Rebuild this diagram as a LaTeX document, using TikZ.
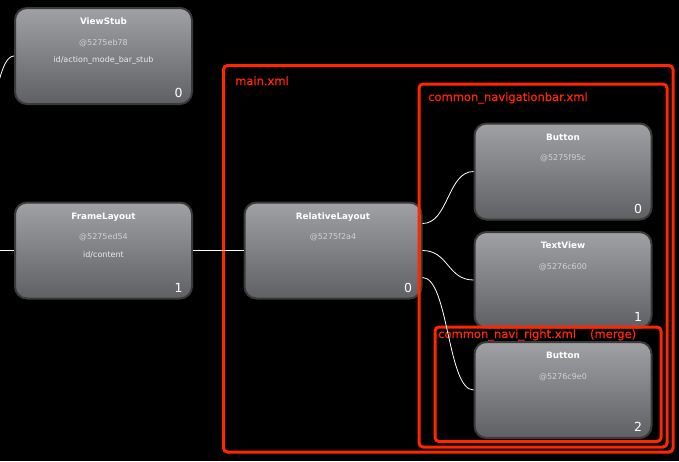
\documentclass[tikz,border=0pt]{standalone}
\usepackage{fontspec}
\setmainfont{DejaVu Sans}
\newfontface\xmlface{DejaVu Sans}[FakeBold=0.7]
\definecolor{boxtop}{RGB}{160,161,164}
\definecolor{boxbottom}{RGB}{94,96,100}
\definecolor{boxedge}{RGB}{58,58,58}
\definecolor{xmlred}{RGB}{255,38,0}
\colorlet{addrgray}{white!82!black}
\usetikzlibrary{positioning}

\begin{document}
\begin{tikzpicture}[x=1pt, y=-1pt,
    viewbox/.style={top color=boxtop, bottom color=boxbottom, draw=boxedge,
      line width=2pt, rounded corners=12pt, minimum width=177pt,
      minimum height=96pt, inner sep=0pt},
    vtitle/.style={anchor=base, text=white, font=\fontsize{8.8}{10}\selectfont\bfseries},
    vaddr/.style={anchor=base, text=addrgray, font=\fontsize{8}{9}\selectfont},
    vid/.style={anchor=base, text=white!92!black, font=\fontsize{8}{9}\selectfont},
    vindex/.style={anchor=base east, text=white, font=\fontsize{12.5}{14}\selectfont},
    xmlframe/.style={draw=xmlred, line width=3pt, rounded corners=4pt},
    xmllabel/.style={anchor=base west, text=xmlred, inner sep=0pt,
      font=\xmlface\fontsize{11.5}{13}\selectfont},
    link/.style={draw=white, line width=0.8pt},
  ]
    \fill[black] (0,0) rectangle (679,461);
    \clip (0,0) rectangle (679,461);

    % view boxes
    \node[viewbox] (vs) at (103.5, 56) {};
    \node[vtitle] (vs-t) at ([yshift=-17.5pt]vs.north) {ViewStub};
    \node[vaddr] (vs-a) at ([yshift=-38pt]vs.north) {@5275eb78};
    \node[vid] (vs-i) at ([yshift=-55.5pt]vs.north) {id/action\_mode\_bar\_stub};
    \node[vindex] (vs-n) at ([xshift=-7pt, yshift=7.5pt]vs.south east) {0};

    \node[viewbox] (fl) at (103.5, 250.5) {};
    \node[vtitle] (fl-t) at ([yshift=-17.5pt]fl.north) {FrameLayout};
    \node[vaddr] (fl-a) at ([yshift=-38pt]fl.north) {@5275ed54};
    \node[vid] (fl-i) at ([yshift=-55.5pt]fl.north) {id/content};
    \node[vindex] (fl-n) at ([xshift=-7pt, yshift=7.5pt]fl.south east) {1};

    \node[viewbox] (rl) at (333, 250.5) {};
    \node[vtitle] (rl-t) at ([yshift=-17.5pt]rl.north) {RelativeLayout};
    \node[vaddr] (rl-a) at ([yshift=-38pt]rl.north) {@5275f2a4};
    \node[vindex] (rl-n) at ([xshift=-7pt, yshift=7.5pt]rl.south east) {0};

    \node[viewbox] (b1) at (563, 171.5) {};
    \node[vtitle] (b1-t) at ([yshift=-17.5pt]b1.north) {Button};
    \node[vaddr] (b1-a) at ([yshift=-38pt]b1.north) {@5275f95c};
    \node[vindex] (b1-n) at ([xshift=-7pt, yshift=7.5pt]b1.south east) {0};

    \node[viewbox] (tv) at (563, 280) {};
    \node[vtitle] (tv-t) at ([yshift=-17.5pt]tv.north) {TextView};
    \node[vaddr] (tv-a) at ([yshift=-38pt]tv.north) {@5276c600};
    \node[vindex] (tv-n) at ([xshift=-7pt, yshift=7.5pt]tv.south east) {1};

    \node[viewbox] (b2) at (563, 390) {};
    \node[vtitle] (b2-t) at ([yshift=-17.5pt]b2.north) {Button};
    \node[vaddr] (b2-a) at ([yshift=-38pt]b2.north) {@5276c9e0};
    \node[vindex] (b2-n) at ([xshift=-7pt, yshift=7.5pt]b2.south east) {2};

    % layout files
    \draw[xmlframe] (223.5, 65.5) rectangle (673, 452);
    \node[xmllabel] (main-l) at (235, 85) {main.xml};
    \draw[xmlframe] (419, 84) rectangle (667, 447);
    \node[xmllabel] (nav-l) at (428, 101) {common\_navigationbar.xml};
    \draw[xmlframe] (435, 327) rectangle (661, 441.5);
    \node[xmllabel] (right-l) at (438, 338) {common\_navi\_right.xml\hspace{14pt}(merge)};

    % links
    \coordinate (offparent) at (-37, 250.5);
    \draw[link] ([yshift=27pt]offparent) .. controls +(26,0) and +(-26,0) .. (vs.west);
    \draw[link] (offparent) -- (fl.west);
    \draw[link] (fl.east) -- (rl.west);
    \draw[link] ([yshift=27pt]rl.east) .. controls +(26,0) and +(-26,0) .. (b1.west);
    \draw[link] (rl.east) .. controls +(26,0) and +(-26,0) .. (tv.west);
    \draw[link] ([yshift=-27pt]rl.east) .. controls +(26,0) and +(-26,0) .. (b2.west);
\end{tikzpicture}
\end{document}
